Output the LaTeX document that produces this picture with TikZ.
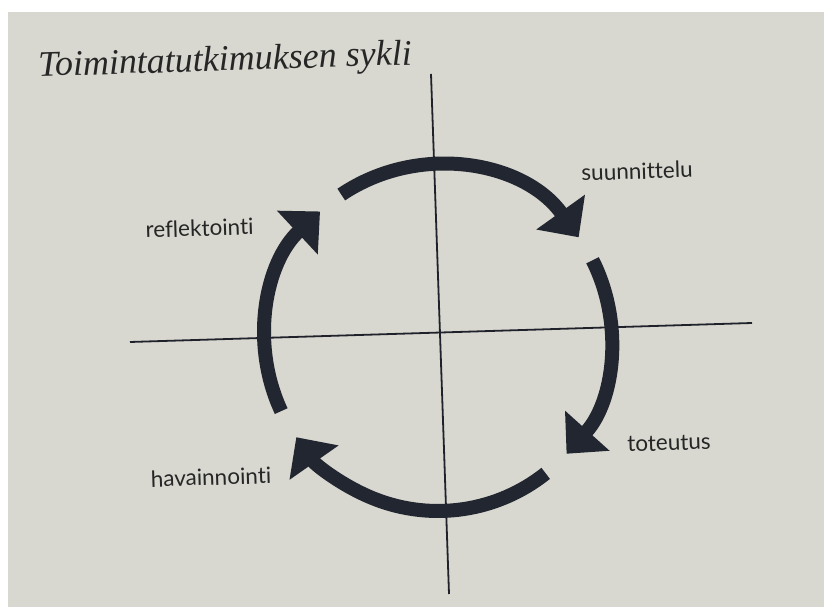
\documentclass[tikz,border=0pt]{standalone}
\usepackage{fontspec}
\setmainfont{Liberation Serif}
\newfontfamily\labfont[Ligatures=NoCommon]{Lato}
\usetikzlibrary{arrows.meta}
\definecolor{page}{RGB}{216,216,208}
\definecolor{ink}{RGB}{34,38,48}
\definecolor{txt}{RGB}{38,38,38}
\tikzset{
  cyc/.style={draw=ink, line width=14pt,
    -{Triangle[width=58pt,length=31pt]}},
  axis/.style={draw=ink!90!black, line width=1.8pt},
  lab/.style={text=txt, font=\labfont\fontsize{22.5pt}{26pt}\selectfont,
    inner sep=0pt, rotate=1.8},
  ttl/.style={text=txt, font=\itshape\fontsize{36pt}{40pt}\selectfont,
    inner sep=0pt, rotate=1.8}
}
\begin{document}
\begin{tikzpicture}[x=1pt,y=1pt]
  \useasboundingbox (0,0) rectangle (824,607);
  \fill[white] (0,0) rectangle (824,607);
  \fill[page] (8,0) rectangle (824,595);
  % axes
  \coordinate (vt) at (431,533);
  \coordinate (vb) at (449,13);
  \coordinate (hl) at (130,265);
  \coordinate (hr) at (752,284);
  \draw[axis] (vt) -- (vb);
  \draw[axis] (hl) -- (hr);
  % cycle
  \coordinate (c) at (438,269);
  \draw[cyc] (c) ++(124:173) arc[start angle=124, end angle=35.6, radius=173];
  \draw[cyc] (c) ++(26.7:173) arc[start angle=26.7, end angle=-42, radius=173];
  \draw[cyc] (c) ++(-51.5:173) arc[start angle=-51.5, end angle=-145, radius=173];
  \draw[cyc] (c) ++(-155:173) arc[start angle=-155, end angle=-227, radius=173];
  % labels
  \node[lab] (plan) at (637,436) {suunnittelu};
  \node[lab] (refl) at (199.5,379) {reflektointi};
  \node[lab] (tot) at (669,164) {toteutus};
  \node[lab] (hav) at (211,130) {havainnointi};
  \node[ttl] (title) at (225,545) {Toimintatutkimuksen sykli};
\end{tikzpicture}
\end{document}
